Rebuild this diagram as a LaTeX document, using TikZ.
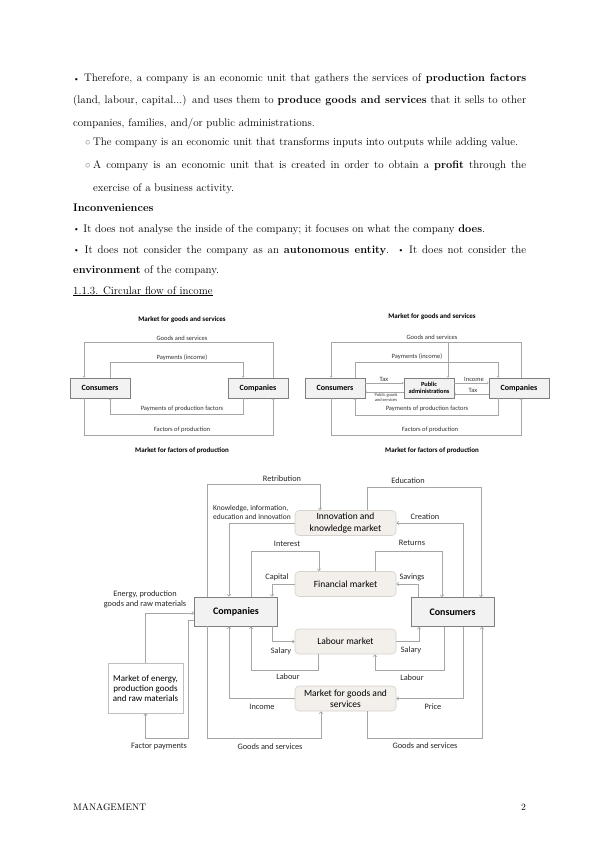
\documentclass[tikz,border=0pt]{standalone}
\usepackage{fontspec}
\newfontfamily\diagfont{Carlito}
\usetikzlibrary{arrows.meta,positioning}
\definecolor{linegray}{HTML}{A6A6A6}
\definecolor{agentfill}{HTML}{F2F2F2}
\definecolor{agentedge}{HTML}{7F7F7F}
\definecolor{mktfill}{HTML}{F3F0EC}
\definecolor{mktedge}{HTML}{D6D2CD}
\newcommand{\pagebull}{\raisebox{0.8pt}{\fontsize{8}{8}\selectfont\textbullet}}
\tikzset{
  body/.style={font=\fontsize{11}{13}\selectfont, inner sep=0pt, anchor=base west},
  flow/.style={draw=linegray, line width=0.6pt, -{Straight Barb[length=2pt,width=3.5pt]}},
  sflow/.style={draw=linegray, line width=0.45pt, -{Straight Barb[length=1.5pt,width=2.6pt]}},
  agent/.style={draw=agentedge, fill=agentfill, line width=0.6pt, inner sep=0pt,
    font=\diagfont\bfseries\fontsize{10}{11}\selectfont, minimum width=83pt, minimum height=29pt},
  sagent/.style={draw=agentedge, fill=agentfill, line width=0.45pt, inner sep=0pt, align=center,
    font=\diagfont\bfseries\fontsize{8}{8}\selectfont, minimum width=60pt, minimum height=20pt},
  market/.style={draw=mktedge, fill=mktfill, rounded corners=4pt, line width=0.6pt, inner sep=0pt,
    align=center, font=\diagfont\fontsize{9.5}{11.5}\selectfont, minimum width=101pt, minimum height=25pt},
  lbl/.style={font=\diagfont\fontsize{8.3}{9.5}\selectfont, inner sep=0pt, text=black!85},
  slbl/.style={font=\diagfont\fontsize{6.5}{7}\selectfont, inner sep=0pt, text=black!80},
  stitle/.style={font=\diagfont\bfseries\fontsize{7}{8}\selectfont, inner sep=0pt}
}
\begin{document}
\begin{tikzpicture}[x=1pt,y=-1pt]
\fill[white] (0,0) rectangle (599,848);
\useasboundingbox (0,0) rectangle (599,848);

% text of the page
\node[body] (l1) at (73,82) {\makebox[453pt][s]{\pagebull{} Therefore, a company is an economic unit that gathers the services of \textbf{production factors}}};
\node[body] (l2) at (73,104) {\makebox[453pt][s]{(land, labour, capital...) and uses them to \textbf{produce goods and services} that it sells to other}};
\node[body] (l3) at (73,126) {companies, families, and/or public administrations.};
\node[body, text=gray] (b4) at (85,146) {$\circ$};
\node[body] (l4) at (93,146) {The company is an economic unit that transforms inputs into outputs while adding value.};
\node[body, text=gray] (b5) at (85,168) {$\circ$};
\node[body] (l5) at (93,168) {\makebox[433pt][s]{A company is an economic unit that is created in order to obtain a \textbf{profit} through the}};
\node[body] (l6) at (93,191) {exercise of a business activity.};
\node[body] (l7) at (73,211) {\textbf{Inconveniences}};
\node[body] (l8) at (73,232) {\pagebull{} It does not analyse the inside of the company; it focuses on what the company \textbf{does}.};
\node[body] (l9) at (73,253) {\makebox[453pt][s]{\pagebull{} It does not consider the company as an \textbf{autonomous entity}. \pagebull{} It does not consider the}};
\node[body] (l10) at (73,273) {\textbf{environment} of the company.};
\node[body] (l11) at (73,294) {\underline{1.1.3. Circular flow of income}};

% simple circular flow
\node[stitle] (t1) at (182,320) {Market for goods and services};
\node[stitle] (b1) at (182,451) {Market for factors of production};
\node[sagent] (scons) at (100,388) {Consumers};
\node[sagent] (scomp) at (258,388) {Companies};
\draw[sflow] (273,0 |- scomp.north) |- (84,342) -- (84,0 |- scons.north);
\draw[sflow] (110,0 |- scons.north) |- (243,362) -- (243,0 |- scomp.north);
\draw[sflow] (243,0 |- scomp.south) |- (110,414) -- (110,0 |- scons.south);
\draw[sflow] (84,0 |- scons.south) |- (273,435) -- (273,0 |- scomp.south);
\node[slbl] (g1) at (182,338) {Goods and services};
\node[slbl] (p1) at (182,358) {Payments (income)};
\node[slbl] (pf1) at (182,409) {Payments of production factors};
\node[slbl] (f1) at (182,430) {Factors of production};

% circular flow with public sector
\node[stitle] (t2) at (432,317) {Market for goods and services};
\node[stitle] (b2) at (432,451) {Market for factors of production};
\node[sagent] (rcons) at (335,388) {Consumers};
\node[sagent, minimum width=50pt, font=\diagfont\bfseries\fontsize{6.3}{6.8}\selectfont] (rpub) at (429,388) {Public\\administrations};
\node[sagent] (rcomp) at (519,388) {Companies};
\draw[sflow] (521,0 |- rcomp.north) |- (331,342) -- (331,0 |- rcons.north);
\coordinate (gsplit) at (448,342);
\draw[sflow] (gsplit) -- (448,0 |- rpub.north);
\draw[sflow] (355,0 |- rcons.north) |- (498,362) -- (498,0 |- rcomp.north);
\draw[sflow] (rcons.east |- 0,383) -- (rpub.west |- 0,383);
\draw[sflow] (rpub.west |- 0,392) -- (rcons.east |- 0,392);
\draw[sflow] (rpub.east |- 0,383) -- (rcomp.west |- 0,383);
\draw[sflow] (rcomp.west |- 0,394) -- (rpub.east |- 0,394);
\draw[sflow] (498,0 |- rcomp.south) |- (355,415) -- (355,0 |- rcons.south);
\draw[sflow] (331,0 |- rcons.south) |- (521,435) -- (521,0 |- rcomp.south);
\node[slbl] (g2) at (432,337) {Goods and services};
\node[slbl] (p2) at (417,357) {Payments (income)};
\node[slbl] (tx1) at (384,379) {Tax};
\node[slbl, align=center, font=\diagfont\fontsize{4.5}{5}\selectfont] (pg2) at (386,397.5) {Public goods\\and services};
\node[slbl] (in2) at (474,379) {Income};
\node[slbl] (tx2) at (473,390) {Tax};
\node[slbl] (pf2) at (427,409) {Payments of production factors};
\node[slbl] (f2) at (430,430) {Factors of production};

% extended circular flow
\node[agent] (comp) at (236,611.5) {Companies};
\node[agent] (cons) at (452.5,612) {Consumers};
\node[market] (inno) at (345.5,523) {Innovation and\\knowledge market};
\node[market] (fin) at (345.5,584) {Financial market};
\node[market] (lab) at (345.5,641.5) {Labour market};
\node[market, font=\diagfont\fontsize{9.5}{11}\selectfont] (gs) at (345.5,698.5) {Market for goods and\\services};
\node[draw=black!25, fill=white, line width=0.6pt, minimum width=75pt, minimum height=50pt, inner sep=0pt,
  align=center, font=\diagfont\fontsize{9}{10}\selectfont] (energy) at (145.5,688) {Market of energy,\\production goods\\and raw materials};

\draw[flow] (207,0 |- comp.north) |- (320,484) -- (320,0 |- inno.north);
\draw[flow] (inno.west) -| (229,0 |- comp.north);
\draw[flow] (251,0 |- comp.north) |- (319,551) -- (319,0 |- fin.north);
\draw[flow] (fin.west) -| (272,0 |- comp.north);
\draw[flow] (375,0 |- fin.north) |- (442,551) -- (442,0 |- cons.north);
\draw[flow] (418,0 |- cons.north) |- (fin.east);
\draw[flow] (463,0 |- cons.north) |- (inno.east);
\draw[flow] (367,0 |- inno.north) |- (481,487) -- (481,0 |- cons.north);
\draw[flow] (energy.north) |- (comp.west |- 0,613);
\draw[flow] (comp.west |- 0,620) -| (188,738) -| (energy.south);
\draw[flow] (207,0 |- comp.south) |- (321,738) -- (321,0 |- gs.south);
\draw[flow] (gs.west) -| (229,0 |- comp.south);
\draw[flow] (318,0 |- lab.south) |- (251,670) -- (251,0 |- comp.south);
\draw[flow] (272,0 |- comp.south) |- (lab.west);
\draw[flow] (lab.east) -| (419,0 |- cons.south);
\draw[flow] (444,0 |- cons.south) |- (375,670) -- (375,0 |- lab.south);
\draw[flow] (463,0 |- cons.south) |- (gs.east);
\draw[flow] (367,0 |- gs.south) |- (482,738) -- (482,0 |- cons.south);

\node[lbl] (retr) at (282,479) {Retribution};
\node[lbl, anchor=west, align=left, font=\diagfont\fontsize{7.5}{9}\selectfont] (know) at (213,512.5) {Knowledge, information,\\education and innovation};
\node[lbl] (inter) at (287,544) {Interest};
\node[lbl] (capi) at (277,577) {Capital};
\node[lbl] (retu) at (412,543) {Returns};
\node[lbl] (savi) at (412,577) {Savings};
\node[lbl] (crea) at (425,517) {Creation};
\node[lbl] (educ) at (408,481) {Education};
\node[lbl, align=center] (enlbl) at (145,599.5) {Energy, production\\goods and raw materials};
\node[lbl] (facp) at (159,746) {Factor payments};
\node[lbl] (gsl) at (270,747) {Goods and services};
\node[lbl] (inco) at (262,707) {Income};
\node[lbl] (labl) at (288,677) {Labour};
\node[lbl] (sall) at (281,651) {Salary};
\node[lbl] (salr) at (411,650) {Salary};
\node[lbl] (labr) at (412,678) {Labour};
\node[lbl] (pric) at (433,707) {Price};
\node[lbl] (gsr) at (425,746) {Goods and services};

% footer
\node[body, font=\fontsize{9.5}{11}\selectfont] (foot) at (73,810) {MANAGEMENT};
\node[body, anchor=base east, font=\fontsize{9.5}{11}\selectfont] (page) at (526,810) {2};
\end{tikzpicture}
\end{document}
